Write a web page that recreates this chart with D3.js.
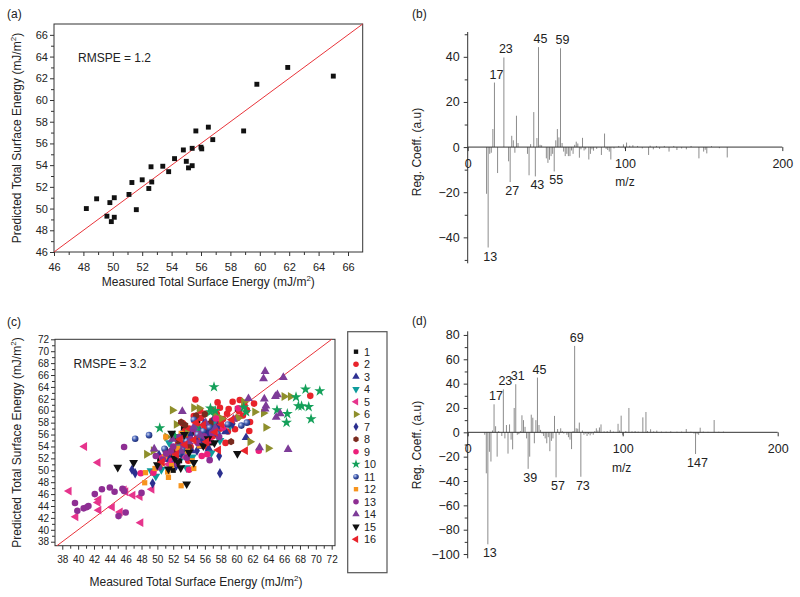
<!DOCTYPE html>
<html>
<head>
<meta charset="utf-8">
<script src="https://cdn.jsdelivr.net/npm/d3@7"></script>
<style>
  body { margin: 0; background: #fff; }
  svg text { font-family: "Liberation Sans", Arial, Helvetica, sans-serif; fill: #222; }
</style>
</head>
<body>
<div id="chart"></div>
<script>
// ---- panel (a): measured vs predicted, single model
const fitA = [[48.2,50.0],[48.9,50.9],[49.6,49.3],[49.8,50.55],[49.9,48.8],[50.1,51.0],[50.1,49.2],[51.1,51.3],[51.3,52.4],[51.6,49.9],[52.0,52.65],[52.45,51.85],[52.6,53.85],[52.65,52.45],[53.4,53.9],[53.8,53.4],[54.2,54.6],[54.8,55.4],[55.0,54.35],[55.15,53.75],[55.4,53.95],[55.4,55.55],[55.65,57.15],[56.0,55.65],[56.05,55.5],[56.5,57.5],[56.8,56.35],[58.9,57.15],[59.8,61.45],[61.9,63.0],[65.0,62.2]];

// ---- panel (c): measured vs predicted, 16 groups
const s1 = [[60.1,60.3],[52.2,55.4],[53.3,57.2],[54.5,56.3],[51.0,53.4],[52.8,51.6],[55.6,55.2],[53.9,52.8],[56.8,54.6],[50.3,51.8],[54.1,54.1],[57.4,57.0],[52.0,50.0],[55.1,58.3],[53.6,55.0],[56.3,56.5]];
const s2 = [[54.8,61.9],[56.0,59.5],[57.6,61.4],[57.5,59.5],[59.5,61.5],[58.8,59.5],[60.4,61.8],[61.0,60.9],[58.9,56.5],[59.8,56.9],[61.6,56.6],[61.7,58.1],[60.3,59.9],[69.3,62.5],[57.6,57.9],[55.4,60.0],[56.9,58.3],[55.0,57.5],[53.9,55.8],[52.6,54.3],[56.2,55.1],[58.3,58.6],[60.1,58.8],[53.2,57.9],[55.9,56.9],[54.2,53.9],[57.0,55.7],[51.6,52.5],[59.3,57.7],[58.6,54.6],[61.3,60.1],[55.5,58.8],[56.8,60.2],[54.0,57.0],[57.9,60.5],[59.0,60.3],[55.2,55.4],[53.5,56.6],[58.0,57.0],[56.4,57.5],[54.6,59.1],[52.9,52.9],[60.8,59.2],[62.2,61.2],[53.9,51.6],[56.3,53.9]];
const s3 = [[61.2,55.5],[55.3,56.8],[53.7,54.6],[56.5,53.6],[52.3,53.0],[57.6,57.3],[54.8,55.2],[51.5,51.8],[58.6,56.5],[50.2,52.6],[55.9,57.9],[53.0,56.0],[54.3,53.3],[56.2,56.0],[52.9,54.8],[57.1,58.6],[55.4,54.0]];
const s4 = [[49.2,49.9],[50.5,50.1],[56.8,52.9],[53.7,50.4],[57.9,55.0],[51.5,54.6],[55.1,56.6],[52.8,53.9],[59.2,57.5],[54.4,52.2],[49.8,49.0],[56.0,54.7],[53.2,52.4],[55.8,55.2],[57.0,57.8]];
const s5 = [[38.85,46.5],[39.7,42.2],[40.8,54.0],[42.5,51.3],[42.5,44.6],[42.6,45.1],[42.6,43.3],[44.3,43.8],[45.3,43.0],[45.8,46.7],[46.0,46.4],[46.9,45.8],[47.8,45.6],[47.9,41.2],[49.3,46.8],[51.4,51.0],[53.5,52.2],[55.2,54.5]];
const s6 = [[51.9,60.1],[52.4,57.7],[55.3,60.4],[54.6,60.5],[57.3,59.2],[60.9,61.5],[60.2,58.8],[62.3,59.8],[63.7,57.2],[64.0,53.7],[61.7,54.8],[66.0,62.4],[66.8,62.4],[63.4,59.6],[48.65,52.7],[49.5,53.3],[51.2,55.6],[53.8,56.2],[58.1,58.7]];
const s7 = [[46.8,50.1],[47.2,49.5],[49.4,47.8],[57.8,52.4],[57.9,49.5],[53.0,52.8],[55.6,54.8],[54.2,55.9],[51.8,51.9],[56.5,56.5],[59.5,57.8],[50.4,50.8],[55.0,53.3],[53.8,54.4],[56.0,55.8],[52.4,50.8],[57.2,56.9]];
const s8 = [[54.9,59.2],[53.5,57.6],[59.3,54.8],[55.6,56.4],[52.6,55.0],[56.7,57.9],[51.9,53.4],[54.0,53.9],[53.0,58.1],[56.0,59.4],[52.1,51.4]];
const s9 = [[47.9,49.5],[49.5,49.6],[62.8,53.3],[58.3,57.2],[54.0,50.1],[51.8,51.6],[56.6,55.0],[60.2,60.4],[53.4,53.8],[55.6,52.4],[57.4,58.7],[50.6,52.1],[52.7,53.4],[55.0,56.1],[56.3,52.7]];
const s10 = [[57.15,64.0],[50.3,57.1],[56.7,59.8],[57.3,60.0],[56.7,60.4],[61.2,59.8],[65.1,60.1],[66.3,58.0],[66.4,59.5],[67.5,62.3],[68.7,63.6],[68.2,60.8],[69.1,60.65],[69.4,58.6],[70.5,63.3],[67.8,60.8],[60.9,60.6],[52.2,55.8],[55.0,57.2]];
const s11 = [[47.2,55.3],[48.95,55.9],[61.3,58.0],[60.6,57.5],[53.7,54.9],[55.8,56.6],[52.7,52.7],[57.6,56.1],[50.9,53.6],[54.6,58.5],[58.9,57.7],[56.6,57.2],[55.1,56.0],[53.2,53.5]];
const s12 = [[48.4,47.9],[48.5,49.6],[51.4,48.8],[53.0,47.4],[54.6,50.3],[51.3,49.7],[51.05,55.6],[53.0,56.2],[52.2,52.3],[50.4,51.0],[53.8,53.2],[55.3,54.1],[49.7,50.3],[51.8,50.8],[52.6,53.7],[54.4,51.6],[50.9,52.3]];
const s13 = [[39.6,44.5],[39.9,43.2],[40.7,43.6],[41.1,43.8],[41.3,44.0],[42.1,46.0],[43.0,46.8],[44.0,47.1],[44.6,46.4],[45.6,46.9],[45.8,46.5],[45.1,42.3],[46.0,42.9],[48.0,46.2],[45.8,53.9],[49.8,52.4],[51.7,53.2],[53.3,54.3],[56.6,51.7],[52.5,51.1],[55.1,54.6],[50.7,51.8],[54.5,56.9],[57.8,55.6],[52.0,54.0],[53.7,52.1],[55.9,55.7],[51.1,52.8],[54.2,55.2],[56.9,56.3],[52.8,55.6],[50.2,50.5]];
const s14 = [[53.15,59.9],[61.5,62.05],[63.6,66.6],[63.4,65.4],[65.9,65.6],[65.15,62.7],[64.9,62.4],[63.7,60.8],[63.6,60.3],[63.5,62.0],[62.9,53.8],[65.0,58.9],[65.5,59.5],[66.5,53.5],[49.6,53.6],[53.0,53.2],[54.6,57.3],[56.1,58.0],[59.6,58.6],[51.9,55.2],[55.4,55.9],[52.3,51.8],[57.3,57.1],[54.0,54.8]];
const s15 = [[45.0,50.5],[47.0,51.3],[53.7,47.7],[54.6,51.3],[60.1,52.8],[52.95,50.4],[51.8,56.2],[52.2,52.0],[50.0,50.9],[55.8,54.1],[57.2,54.6],[53.4,56.0],[51.4,50.2],[54.0,53.0],[52.6,51.4],[56.4,55.3]];
const s16 = [[61.1,53.3],[57.7,53.4],[58.1,57.7],[54.6,55.1],[52.4,52.7],[55.8,57.6],[57.3,56.4],[59.4,58.5],[53.5,54.3],[50.6,51.4],[56.2,54.8],[52.9,55.2],[54.9,58.0]];

const groupNames = ['1','2','3','4','5','6','7','8','9','10','11','12','13','14','15','16'];
const groupShapes = ['square','circle','triUp','triDown','triLeft','triRight','diamond','hexagon','circle','star','sphere','square','circle','triUp','triDown','triLeft'];
const groupColors = ['#111111','#e8232b','#2e3192','#0e9c9c','#e6348c','#8e8f2c','#2b2f8f','#7a2a1e','#ec1f7a','#14a05a','#3b56a8','#f7941d','#8e2e93','#7d3c98','#111111','#e8232b'];

// ---- panels (b), (d): regression coefficients [m/z, value]
const coeffB = [[12,-20.7],[13,-44.5],[14,-3],[15,-2.5],[16,8],[17,28.6],[19,-11.5],[23,39.7],[26,-6.3],[27,-15.5],[28,5],[29,3],[30,-2.5],[31,13.9],[32,1.8],[38,-3],[39,-12.5],[40,1.3],[42,15.5],[43,-13],[44,4],[45,44.3],[46,1],[47,0.8],[50,-5],[51,-7],[52,-5.6],[53,-4],[54,-3],[55,-10.8],[56,3],[57,8],[58,4.3],[59,43.8],[60,1.8],[61,-2],[62,-4],[63,-3],[64,-4],[65,-4],[66,-1.5],[67,-3],[68,1],[69,2.4],[70,1.6],[71,-4.7],[72,-1],[73,4.1],[74,-1.5],[75,-1],[77,-5.5],[78,-3],[79,-1],[80,-1.6],[82,-0.8],[85,-3.5],[87,6],[88,-0.8],[89,-1.3],[90,-2],[91,-5.5],[93,-0.6],[96,0.5],[99,1.2],[100,-0.8],[101,2],[103,0.6],[105,0.8],[108,0.5],[111,-0.6],[115,-3.5],[116,0.6],[118,-1],[120,0.5],[122,-0.8],[125,0.5],[128,-2],[131,0.5],[133,-1.3],[136,-0.6],[139,-1],[142,0.5],[147,-5],[150,-2],[151,-1.2],[152,-2.8],[155,0.4],[160,-0.5],[165,-4.6]];
const peaksB = [13,17,23,27,43,45,55,59];

const coeffD = [[11,-2],[12,-33.7],[13,-92],[14,-16],[15,-24],[16,1.5],[17,23],[18,5],[19,-20],[20,1],[22,-3],[23,35.3],[24,-5],[25,6],[26,-17.5],[27,6.5],[28,-6],[29,-14],[30,20],[31,39.5],[32,-2],[33,-1.5],[34,1],[35,14],[36,10],[37,4.5],[38,-5],[39,-30],[40,-20],[41,14.5],[42,12],[43,-9],[44,10],[45,45],[46,6],[47,2],[48,-1],[49,-3],[50,-5],[51,-9],[52,-4],[53,-15.5],[54,-7],[55,-5],[56,13.5],[57,-37],[58,2.7],[59,-2],[60,3.3],[61,1],[62,-1],[64,-2],[65,-4],[66,-6],[67,-13.8],[68,1],[69,71],[70,3.3],[71,3],[72,8],[73,-36.5],[74,1.5],[75,-2],[76,-1],[77,-3],[78,-1.5],[79,-2.5],[80,-1],[81,-2],[82,1],[83,3.3],[84,1.5],[85,4],[86,6.5],[88,0.8],[90,1],[92,2],[94,0.6],[97,7],[98,1.5],[99,13.7],[100,-2],[102,1],[104,20],[106,0.8],[108,1],[110,0.6],[113,12.3],[115,16.7],[116,1],[118,2.5],[120,0.8],[122,1.4],[125,0.6],[128,0.5],[131,0.8],[135,0.5],[138,0.6],[141,2.7],[144,0.5],[146,-1],[147,-17.8],[148,-1.5],[149,-2],[150,3.8],[152,0.6],[155,0.4],[159,10.1],[162,0.5],[165,0.6]];
const peaksD = [13,17,23,31,39,45,57,69,73,147];

(function () {

  const svg = d3.select('#chart')
    .append('svg')
    .attr('width', 800)
    .attr('height', 597);

  const defs = svg.append('defs');
  const grad = defs.append('radialGradient')
    .attr('id', 'sphere').attr('cx', '35%').attr('cy', '35%').attr('r', '70%');
  grad.append('stop').attr('offset', '0%').attr('stop-color', '#cdd7f3');
  grad.append('stop').attr('offset', '50%').attr('stop-color', '#3f5bb0');
  grad.append('stop').attr('offset', '100%').attr('stop-color', '#1c2a70');

  const symbolHexagon = {
    draw(ctx, size) {
      const r = Math.sqrt(size / (1.5 * Math.sqrt(3)));
      for (let i = 0; i < 6; i++) {
        const a = Math.PI / 3 * i + Math.PI / 6;
        if (i) ctx.lineTo(r * Math.cos(a), r * Math.sin(a));
        else ctx.moveTo(r * Math.cos(a), r * Math.sin(a));
      }
      ctx.closePath();
    }
  };

  const shapes = {
    square: [d3.symbolSquare, 0, 0.8],
    circle: [d3.symbolCircle, 0, 1],
    sphere: [d3.symbolCircle, 0, 1],
    triUp: [d3.symbolTriangle, 0, 1],
    triDown: [d3.symbolTriangle, 180, 1],
    triLeft: [d3.symbolTriangle, -90, 1],
    triRight: [d3.symbolTriangle, 90, 1],
    diamond: [d3.symbolDiamond, 0, 0.9],
    hexagon: [symbolHexagon, 0, 1],
    star: [d3.symbolStar, 0, 1.1]
  };

  function addMarker(sel, shape, color, size) {
    const s = shapes[shape];
    sel.append('path')
      .attr('d', d3.symbol(s[0], size * s[2])())
      .attr('transform', d => `translate(${d[0]},${d[1]}) rotate(${s[1]})`)
      .attr('fill', shape === 'sphere' ? 'url(#sphere)' : color);
  }

  function unitTitle(text, t) {
    text.text(t + ' (mJ/m');
    text.append('tspan').attr('dy', -5).attr('font-size', '8px').text('2');
    text.append('tspan').attr('dy', 5).text(')');
  }

  function styleAxis(g, fontSize) {
    g.select('.domain').remove();
    g.selectAll('line').attr('stroke', '#333');
    g.selectAll('text').attr('font-size', fontSize).attr('fill', '#222');
  }

  function drawScatter(cfg) {
    const x = d3.scaleLinear().domain(cfg.xDomain).range([cfg.left, cfg.right]);
    const y = d3.scaleLinear().domain(cfg.yDomain).range([cfg.bottom, cfg.top]);
    const g = svg.append('g');

    g.append('g').attr('transform', `translate(0,${cfg.bottom})`)
      .call(d3.axisBottom(x).tickValues(cfg.xMinor).tickSize(cfg.minor).tickFormat(''))
      .call(a => styleAxis(a, cfg.font));
    g.append('g').attr('transform', `translate(0,${cfg.bottom})`)
      .call(d3.axisBottom(x).tickValues(cfg.xMajor).tickSize(cfg.major).tickPadding(cfg.xPad))
      .call(a => styleAxis(a, cfg.font));
    g.append('g').attr('transform', `translate(${cfg.left},0)`)
      .call(d3.axisLeft(y).tickValues(cfg.yMinor).tickSize(cfg.minor).tickFormat(''))
      .call(a => styleAxis(a, cfg.font));
    g.append('g').attr('transform', `translate(${cfg.left},0)`)
      .call(d3.axisLeft(y).tickValues(cfg.yMajor).tickSize(cfg.major).tickPadding(cfg.yPad))
      .call(a => styleAxis(a, cfg.font));

    g.append('rect')
      .attr('x', cfg.left).attr('y', cfg.top)
      .attr('width', cfg.right - cfg.left).attr('height', cfg.bottom - cfg.top)
      .attr('fill', 'none').attr('stroke', '#333').attr('stroke-width', 1);

    const lo = Math.max(cfg.xDomain[0], cfg.yDomain[0]);
    const hi = Math.min(cfg.xDomain[1], cfg.yDomain[1]);
    g.append('line')
      .attr('x1', x(lo)).attr('y1', y(lo))
      .attr('x2', x(hi)).attr('y2', y(hi))
      .attr('stroke', '#e8343a').attr('stroke-width', 1);

    cfg.series.forEach(s => {
      g.append('g').selectAll('g')
        .data(s.data.map(d => [x(d[0]), y(d[1])]))
        .join('g')
        .call(sel => addMarker(sel, s.shape, s.color, s.size));
    });

    g.append('text').attr('x', cfg.noteX).attr('y', cfg.noteY)
      .attr('font-size', '12px').text(cfg.note);

    g.append('text')
      .attr('x', (cfg.left + cfg.right) / 2 + cfg.xTitleShift).attr('y', cfg.xTitleY)
      .attr('text-anchor', 'middle').attr('font-size', '12px')
      .call(t => unitTitle(t, 'Measured Total Surface Energy'));

    g.append('text')
      .attr('transform', `translate(${cfg.yTitleX},${(cfg.top + cfg.bottom) / 2}) rotate(-90)`)
      .attr('text-anchor', 'middle').attr('font-size', '12px')
      .call(t => unitTitle(t, 'Predicted Total Surface Energy'));

    g.append('text').attr('x', 7).attr('y', cfg.tagY)
      .attr('font-size', '12px').text(cfg.tag);
  }

  function drawCoeff(cfg) {
    const x = d3.scaleLinear().domain([0, 200]).range([cfg.left, cfg.right]);
    const y = d3.scaleLinear().domain(cfg.yDomain).range([cfg.bottom, cfg.top]);
    const g = svg.append('g');
    const byMz = new Map(cfg.data.map(d => [d[0], d[1]]));

    g.append('g').selectAll('line')
      .data(cfg.data)
      .join('line')
      .attr('x1', d => x(d[0])).attr('x2', d => x(d[0]))
      .attr('y1', y(0)).attr('y2', d => y(d[1]))
      .attr('stroke', '#8c8c8c').attr('stroke-width', 1);

    g.append('g').attr('transform', `translate(${cfg.left},0)`)
      .call(d3.axisLeft(y).tickValues(cfg.yMinor).tickSize(3).tickFormat(''))
      .call(a => styleAxis(a, '12.5px'));
    g.append('g').attr('transform', `translate(${cfg.left},0)`)
      .call(d3.axisLeft(y).tickValues(cfg.yMajor).tickSize(4).tickPadding(4))
      .call(a => styleAxis(a, '12.5px'));
    g.append('line')
      .attr('x1', cfg.left).attr('x2', cfg.left)
      .attr('y1', cfg.top).attr('y2', cfg.bottom)
      .attr('stroke', '#333');

    g.append('g').attr('transform', `translate(0,${y(0)})`)
      .call(d3.axisBottom(x).tickValues([0, 100, 200]).tickSize(4).tickPadding(8))
      .call(a => styleAxis(a, '12.5px'));
    g.append('line')
      .attr('x1', x(0)).attr('x2', x(200))
      .attr('y1', y(0)).attr('y2', y(0))
      .attr('stroke', '#333');

    g.append('g').selectAll('text')
      .data(cfg.peaks)
      .join('text')
      .attr('x', d => x(d) + 2)
      .attr('y', d => byMz.get(d) > 0 ? y(byMz.get(d)) - 4 : y(byMz.get(d)) + 13)
      .attr('text-anchor', 'middle').attr('font-size', '12.5px')
      .text(d => d);

    g.append('text').attr('x', cfg.mzX).attr('y', cfg.mzY)
      .attr('text-anchor', 'middle').attr('font-size', '12px').text('m/z');

    g.append('text')
      .attr('transform', `translate(421,${cfg.titleY}) rotate(-90)`)
      .attr('text-anchor', 'middle').attr('font-size', '12px')
      .text('Reg. Coeff. (a.u)');

    g.append('text').attr('x', 412).attr('y', cfg.tagY)
      .attr('font-size', '12px').text(cfg.tag);
  }

  drawScatter({
    left: 54, right: 362.7, top: 24, bottom: 252,
    xDomain: [46, 67], yDomain: [46, 67],
    xMajor: d3.range(46, 67, 2), xMinor: d3.range(47, 67, 2),
    yMajor: d3.range(46, 67, 2), yMinor: d3.range(47, 67, 2),
    major: 4, minor: 3, xPad: 7, yPad: 2, font: '11px',
    series: [{ data: fitA, shape: 'square', color: '#111', size: 30 }],
    note: 'RMSPE = 1.2', noteX: 78, noteY: 61.5,
    xTitleY: 285.5, xTitleShift: 0, yTitleX: 21, tag: '(a)', tagY: 18
  });

  drawScatter({
    left: 55, right: 335, top: 339.3, bottom: 545.7,
    xDomain: [37.08, 72.42], yDomain: [37.33, 72],
    xMajor: d3.range(38, 73, 2), xMinor: d3.range(39, 72, 2),
    yMajor: d3.range(38, 73, 2), yMinor: d3.range(39, 72, 2),
    major: 4, minor: 3, xPad: 6.5, yPad: 2, font: '10px',
    series: [s1, s2, s3, s4, s5, s6, s7, s8, s9, s10, s11, s12, s13, s14, s15, s16].map((d, i) => ({
      data: d, shape: groupShapes[i], color: groupColors[i], size: 34
    })),
    note: 'RMSPE = 3.2', noteX: 73.5, noteY: 367.5,
    xTitleY: 586, xTitleShift: 1, yTitleX: 21, tag: '(c)', tagY: 326
  });

  // legend for panel (c)
  const legend = svg.append('g');
  legend.append('rect')
    .attr('x', 347.7).attr('y', 331.7).attr('width', 39.3).attr('height', 241)
    .attr('fill', '#fff').attr('stroke', '#555').attr('stroke-width', 1.2);
  const rows = legend.selectAll('g.row')
    .data(groupNames)
    .join('g')
    .attr('class', 'row')
    .attr('transform', (d, i) => `translate(0,${351.7 + i * 12.5})`);
  rows.each(function (d, i) {
    d3.select(this).append('g').datum([356, 0])
      .call(sel => addMarker(sel, groupShapes[i], groupColors[i], 24));
  });
  rows.append('text')
    .attr('x', 364).attr('y', 0).attr('dy', '0.36em')
    .attr('font-size', '10.8px')
    .text(d => d);

  drawCoeff({
    left: 467.7, right: 782.3, top: 32, bottom: 263.3,
    yDomain: [-51.5, 51], yMajor: [-40, -20, 0, 20, 40], yMinor: [-50, -30, -10, 10, 30, 50],
    data: coeffB, peaks: peaksB,
    mzX: 625, mzY: 186, titleY: 152, tag: '(b)', tagY: 18
  });

  drawCoeff({
    left: 467.7, right: 777.7, top: 331.3, bottom: 558.3,
    yDomain: [-103.5, 83], yMajor: d3.range(-100, 81, 20), yMinor: d3.range(-90, 81, 20),
    data: coeffD, peaks: peaksD,
    mzX: 621.7, mzY: 472, titleY: 445, tag: '(d)', tagY: 325
  });

})();
</script>
</body>
</html>
